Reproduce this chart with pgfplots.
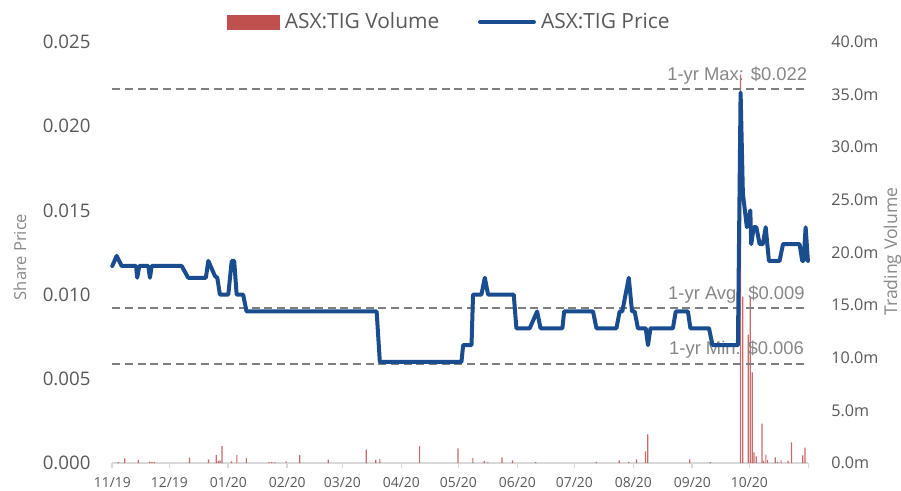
\documentclass[border=0pt]{standalone}
\usepackage{fontspec}
\setmainfont{Open Sans}
\newfontfamily\arialf{Liberation Sans}
\usepackage{pgfplots}
\pgfplotsset{compat=1.18}
\definecolor{volred}{HTML}{C0504D}
\definecolor{priceblue}{HTML}{1A4D8F}
\definecolor{ticktext}{HTML}{595959}
\definecolor{labgray}{HTML}{898989}
\definecolor{anngray}{HTML}{878787}
\definecolor{dashgray}{HTML}{7F7F7F}
\definecolor{axgray}{HTML}{D9D9D9}
\begin{document}
\begin{tikzpicture}
\useasboundingbox (-84.225pt,-20.25pt) rectangle (591.525pt,347.25pt);
% ---------------- volume axis (right) ----------------
\begin{axis}[
  at={(0pt,0pt)}, anchor=south west,
  scale only axis, width=522pt, height=315.75pt,
  xmin=0, xmax=366, ymin=0, ymax=40,
  axis x line*=bottom, axis y line*=right,
  x axis line style={draw=axgray, line width=1.5pt},
  y axis line style={draw=none},
  xtick={0,30,61,92,121,152,182,213,243,274,305,335,366},
  xticklabels={11/19,12/19,01/20,02/20,03/20,04/20,05/20,06/20,07/20,08/20,09/20,10/20,{}},
  xtick style={draw=axgray, line width=1.2pt},
  major tick length=3.75pt, tick align=outside,
  ytick={0,5,10,15,20,25,30,35,40},
  yticklabels={0.0m,5.0m,10.0m,15.0m,20.0m,25.0m,30.0m,35.0m,40.0m},
  ytick style={draw=none},
  xticklabel style={font=\fontsize{10.4pt}{12pt}\selectfont, text=ticktext, anchor=center, inner sep=0pt, yshift=-10.8pt},
  yticklabel style={font=\fontsize{12.1pt}{14pt}\selectfont, text=ticktext, anchor=west, inner sep=0pt, xshift=13.3pt},
  ylabel={Trading Volume},
  ylabel style={at={(axis description cs:1.121,0.502)}, anchor=center, font=\fontsize{13.2pt}{15pt}\selectfont, text=labgray},
]
\addplot[ybar, bar width=0.9pt, bar shift=0pt, fill=volred, fill opacity=0.85, draw=none] coordinates {
(3.1,0.08) (6.6,0.45) (13.6,0.3) (19.7,0.12) (20.9,0.1) (22.1,0.08)
(40.6,0.52) (50.6,0.35) (54.7,0.76) (55.7,0.2) (56.6,0.25) (57.7,1.6)
(62.7,0.15) (65.5,0.76) (70.5,0.47) (82.4,0.08) (83.9,0.08) (85.5,0.08)
(91.4,0.15) (98.6,0.76) (113.6,0.32) (133.5,1.27) (138.5,0.3) (140.7,0.4)
(161.6,1.6) (181.8,1.4) (189.6,0.47) (195.6,0.2) (197.5,0.1) (204.9,0.54)
(210.5,0.25) (222.7,0.08) (254.5,0.1) (266.6,0.25) (271.6,0.1) (275.7,0.35)
(280.4,1.1) (281.6,2.72) (303.7,0.35) (314.4,0.08)
(330.3,36.9) (331.5,15.8) (334.4,12.2) (335.5,15.7) (336.5,8.6) (337.4,1.0)
(338.6,0.63) (341.7,3.74) (342.5,0.2) (343.7,0.8) (344.6,0.3) (348.6,0.54)
(349.8,0.1) (351.7,0.25) (355.3,0.2) (357.2,1.96) (363.1,0.73) (364.3,1.46)
};
\end{axis}
% ---------------- price axis (left) ----------------
\begin{axis}[
  at={(0pt,0pt)}, anchor=south west,
  scale only axis, width=522pt, height=315.75pt,
  xmin=0, xmax=366, ymin=0, ymax=0.025,
  axis x line=none, axis y line*=left,
  y axis line style={draw=none}, ytick style={draw=none},
  scaled y ticks=false,
  ytick={0,0.005,0.01,0.015,0.02,0.025},
  yticklabels={0.000,0.005,0.010,0.015,0.020,0.025},
  yticklabel style={font=\fontsize{14pt}{16pt}\selectfont, text=ticktext, anchor=east, inner sep=0pt, xshift=-16.2pt},
  ylabel={Share Price},
  ylabel style={at={(axis description cs:-0.1326,0.4893)}, anchor=center, font=\fontsize{12.4pt}{15pt}\selectfont, text=labgray},
  clip=false,
  legend columns=2,
  legend style={at={(axis description cs:0.483,1.0475)}, anchor=center, draw=none, fill=none,
    font=\fontsize{15.7pt}{18pt}\selectfont, text=ticktext, inner sep=0pt,
    nodes={inner sep=0pt},
    /tikz/every even column/.append style={column sep=29pt},
    /tikz/every odd column/.append style={column sep=3.75pt}},
]
\addplot[forget plot, dashgray, line width=1.5pt, dash pattern=on 6pt off 3.5pt] coordinates {(0,0.0222) (366,0.0222)};
\addplot[forget plot, dashgray, line width=1.5pt, dash pattern=on 6pt off 3.5pt] coordinates {(0,0.0092) (366,0.0092)};
\addplot[forget plot, dashgray, line width=1.5pt, dash pattern=on 6pt off 3.5pt] coordinates {(0,0.0059) (366,0.0059)};
\node[anchor=base east, inner sep=0pt, font=\arialf\fontsize{13.8pt}{16pt}\selectfont, text=anngray, yshift=6.5pt] at (axis cs:365.5,0.0222) {1-yr Max: \$0.022};
\node[anchor=base east, inner sep=0pt, font=\arialf\fontsize{13.8pt}{16pt}\selectfont, text=anngray, yshift=6.5pt] at (axis cs:364.2,0.0092) {1-yr Avg: \$0.009};
\node[anchor=base east, inner sep=0pt, font=\arialf\fontsize{13.8pt}{16pt}\selectfont, text=anngray, yshift=6.5pt] at (axis cs:363.8,0.0059) {1-yr Min: \$0.006};
\addlegendimage{legend image code/.code={\fill[volred] (0pt,-5.25pt) rectangle (39pt,5.25pt);}}
\addlegendentry{ASX:TIG Volume}
\addplot[priceblue, line width=3pt, line join=round, line cap=round,
  legend image code/.code={\draw[priceblue, line width=3pt] (0pt,0pt) -- (40.5pt,0pt);}] coordinates {
(0,0.0117) (2.3,0.0123) (4.9,0.0117) (12.5,0.0117) (13.1,0.011) (14.2,0.0117)
(18.9,0.0117) (19.8,0.011) (20.7,0.0117) (36.5,0.0117) (39.9,0.011) (49.2,0.011)
(50.5,0.012) (54,0.0111) (55.2,0.011) (56.6,0.010) (61,0.010) (62.8,0.012)
(64.1,0.012) (65.4,0.010) (68.8,0.010) (70.6,0.009) (139,0.009) (140.7,0.006)
(183.6,0.006) (184.5,0.007) (188.9,0.007) (189.7,0.010) (194.1,0.010) (195.9,0.011)
(197.6,0.010) (211.1,0.010) (212.5,0.008) (219.5,0.008) (223.4,0.009) (225.2,0.008)
(236.7,0.008) (237.6,0.009) (252.8,0.009) (254.6,0.008) (265.1,0.008) (266.8,0.009)
(268.2,0.009) (271.6,0.011) (273.3,0.009) (274.7,0.009) (276.4,0.008) (280.5,0.008)
(281.7,0.007) (283,0.008) (294.8,0.008) (296.3,0.009) (302.7,0.009) (304,0.008)
(313.8,0.008) (315.6,0.007) (329,0.007) (330.4,0.022) (331.6,0.016) (333.7,0.014)
(335.5,0.015) (336,0.013) (337.3,0.014) (338.7,0.014) (340.4,0.013) (342.1,0.013)
(343.6,0.014) (345.3,0.012) (350.9,0.012) (352.7,0.013) (361.4,0.013) (362.8,0.012)
(363.5,0.012) (364.6,0.014) (365.8,0.012)
};
\addlegendentry{ASX:TIG Price}
\end{axis}
\end{tikzpicture}
\end{document}
